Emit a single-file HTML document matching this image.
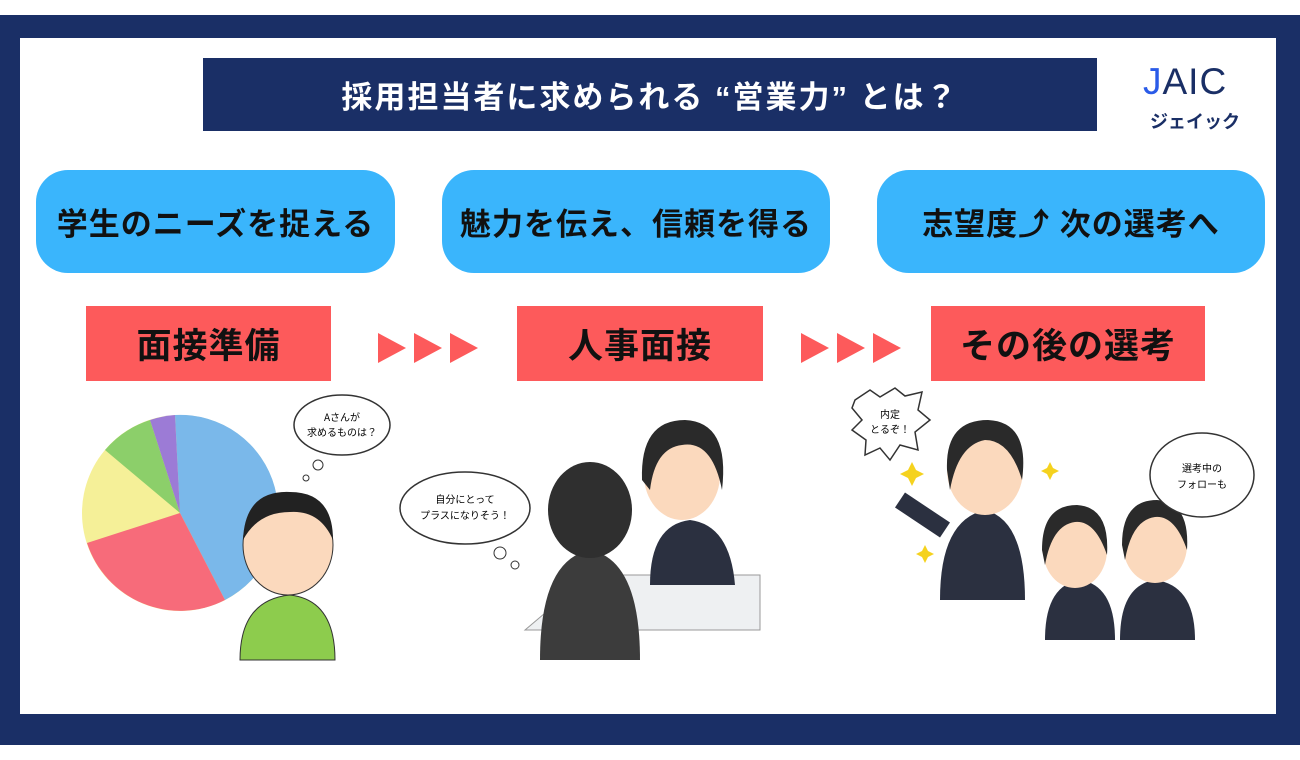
<!DOCTYPE html>
<html><head><meta charset="utf-8"><style>
body{margin:0;width:1300px;height:760px;background:#fff;position:relative;overflow:hidden;font-family:"Liberation Sans","Noto Sans CJK JP",sans-serif;}
.a{position:absolute}
.frame{left:0;top:15px;width:1300px;height:730px;background:#1a2f66}
.inner{left:20px;top:38px;width:1256px;height:676px;background:#fff}
.title{left:203px;top:58px;width:894px;height:73px;background:#1a2f66;color:#fff;font-size:31px;font-weight:bold;display:flex;align-items:center;justify-content:center;letter-spacing:2px}
.pill{top:170px;height:103px;background:#3ab5fc;border-radius:32px;display:flex;align-items:center;justify-content:center;font-size:31px;font-weight:bold;color:#111;letter-spacing:1px}
.red{top:306px;height:75px;background:#fd5a5b;display:flex;align-items:center;justify-content:center;font-size:35px;font-weight:bold;color:#111;letter-spacing:1px}
.tri{width:0;height:0;border-top:15px solid transparent;border-bottom:15px solid transparent;border-left:28px solid #fd5a5b;top:333px}
</style></head><body>
<div class="a frame"></div><div class="a inner"></div>
<div class="a title">採用担当者に求められる “営業力” とは？</div>
<div class="a" style="left:1143px;top:62px;font-size:37px;color:#1a2f66;font-weight:500;letter-spacing:1px;line-height:40px"><span style="color:#2a5be8">J</span>AIC</div>
<div class="a" style="left:1150px;top:108px;font-size:18px;color:#1a2f66;font-weight:bold">ジェイック</div>
<div class="a pill" style="left:36px;width:359px">学生のニーズを捉える</div>
<div class="a pill" style="left:442px;width:388px">魅力を伝え、信頼を得る</div>
<div class="a pill" style="left:877px;width:388px">志望度⤴ 次の選考へ</div>
<div class="a red" style="left:86px;width:245px">面接準備</div>
<div class="a red" style="left:517px;width:246px">人事面接</div>
<div class="a red" style="left:931px;width:274px">その後の選考</div>
<div class="a tri" style="left:378px"></div><div class="a tri" style="left:414px"></div><div class="a tri" style="left:450px"></div>
<div class="a tri" style="left:801px"></div><div class="a tri" style="left:837px"></div><div class="a tri" style="left:873px"></div>
<svg class="a" style="left:0;top:0" width="1300" height="760">
<g transform="translate(180,513)">
<circle r="98" fill="#f5f098"/>
<path d="M0 0 L-5 -98 A98 98 0 0 1 45 87 Z" fill="#7ab8ea"/>
<path d="M0 0 L45 87 A98 98 0 0 1 -93 30 Z" fill="#f76b7a"/>
<path d="M0 0 L-75 -63 A98 98 0 0 1 -30 -93 Z" fill="#8ccf6a"/>
<path d="M0 0 L-30 -93 A98 98 0 0 1 -5 -98 Z" fill="#9c7bd6"/>
</g>
<path d="M240 660 Q240 600 290 595 Q335 600 335 660 Z" fill="#8dcc4d" stroke="#333"/>
<ellipse cx="288" cy="545" rx="45" ry="50" fill="#fbd9bd" stroke="#333"/>
<path d="M243 540 Q245 490 290 492 Q333 492 333 540 Q320 510 290 512 Q258 512 243 540Z" fill="#222"/>
<ellipse cx="342" cy="425" rx="48" ry="30" fill="#fff" stroke="#333" stroke-width="1.5"/>
<circle cx="318" cy="465" r="5" fill="#fff" stroke="#333"/><circle cx="306" cy="478" r="3" fill="#fff" stroke="#333"/>
<text x="342" y="421" font-size="10" text-anchor="middle" font-family="Noto Sans CJK JP">Aさんが</text>
<text x="342" y="436" font-size="10" text-anchor="middle" font-family="Noto Sans CJK JP">求めるものは？</text>
<ellipse cx="465" cy="508" rx="65" ry="36" fill="#fff" stroke="#333" stroke-width="1.5"/>
<circle cx="500" cy="553" r="6" fill="#fff" stroke="#333"/><circle cx="515" cy="565" r="4" fill="#fff" stroke="#333"/>
<text x="465" y="503" font-size="10" text-anchor="middle" font-family="Noto Sans CJK JP">自分にとって</text>
<text x="465" y="519" font-size="10" text-anchor="middle" font-family="Noto Sans CJK JP">プラスになりそう！</text>
<path d="M525 630 L590 575 L760 575 L760 630 Z" fill="#eef0f2" stroke="#999"/>
<path d="M650 585 Q650 525 690 520 Q730 525 735 585 Z" fill="#2b3040"/>
<ellipse cx="682" cy="475" rx="38" ry="45" fill="#fbd9bd"/>
<path d="M642 480 Q640 420 685 420 Q730 422 722 490 Q712 440 682 445 Q655 448 650 490Z" fill="#2a2a2a"/>
<path d="M540 660 Q540 560 590 550 Q640 560 640 660 Z" fill="#3c3c3c"/>
<ellipse cx="590" cy="510" rx="42" ry="48" fill="#2f2f2f"/>
<path d="M940 600 Q940 520 985 510 Q1025 520 1025 600 Z" fill="#2b3040"/>
<ellipse cx="985" cy="470" rx="38" ry="45" fill="#fbd9bd"/>
<path d="M947 470 Q945 420 988 420 Q1030 422 1022 480 Q1010 440 985 440 Q958 445 950 490Z" fill="#2a2a2a"/>
<path d="M900 500 L945 530" stroke="#2b3040" stroke-width="18"/>
<path d="M1045 640 Q1045 585 1080 580 Q1115 585 1115 640 Z" fill="#2b3040"/>
<ellipse cx="1075" cy="550" rx="32" ry="38" fill="#fbd9bd"/>
<path d="M1042 550 Q1042 505 1077 505 Q1110 507 1107 555 Q1095 520 1075 522 Q1052 525 1045 565Z" fill="#2a2a2a"/>
<path d="M1120 640 Q1120 585 1155 580 Q1195 585 1195 640 Z" fill="#2b3040"/>
<ellipse cx="1155" cy="545" rx="32" ry="38" fill="#fbd9bd"/>
<path d="M1122 545 Q1122 500 1157 500 Q1190 502 1187 550 Q1175 515 1155 517 Q1132 520 1125 560Z" fill="#2a2a2a"/>
<path d="M855 400 L870 390 L880 397 L895 388 L905 396 L922 392 L918 410 L930 420 L915 432 L918 450 L900 445 L890 460 L880 448 L865 455 L866 440 L852 430 L862 420 L852 408 Z" fill="#fff" stroke="#333" stroke-width="1.5"/>
<text x="890" y="418" font-size="10" text-anchor="middle" font-family="Noto Sans CJK JP">内定</text>
<text x="890" y="433" font-size="10" text-anchor="middle" font-family="Noto Sans CJK JP">とるぞ！</text>
<path d="M912 462 l4 8 8 4 -8 4 -4 8 -4 -8 -8 -4 8 -4z" fill="#f5d21e"/>
<path d="M1050 462 l3 6 6 3 -6 3 -3 6 -3 -6 -6 -3 6 -3z" fill="#f5d21e"/>
<path d="M925 545 l3 6 6 3 -6 3 -3 6 -3 -6 -6 -3 6 -3z" fill="#f5d21e"/>
<ellipse cx="1202" cy="475" rx="52" ry="42" fill="#fff" stroke="#333" stroke-width="1.5"/>
<text x="1202" y="472" font-size="10" text-anchor="middle" font-family="Noto Sans CJK JP">選考中の</text>
<text x="1202" y="488" font-size="10" text-anchor="middle" font-family="Noto Sans CJK JP">フォローも</text>
</svg>
</body></html>
